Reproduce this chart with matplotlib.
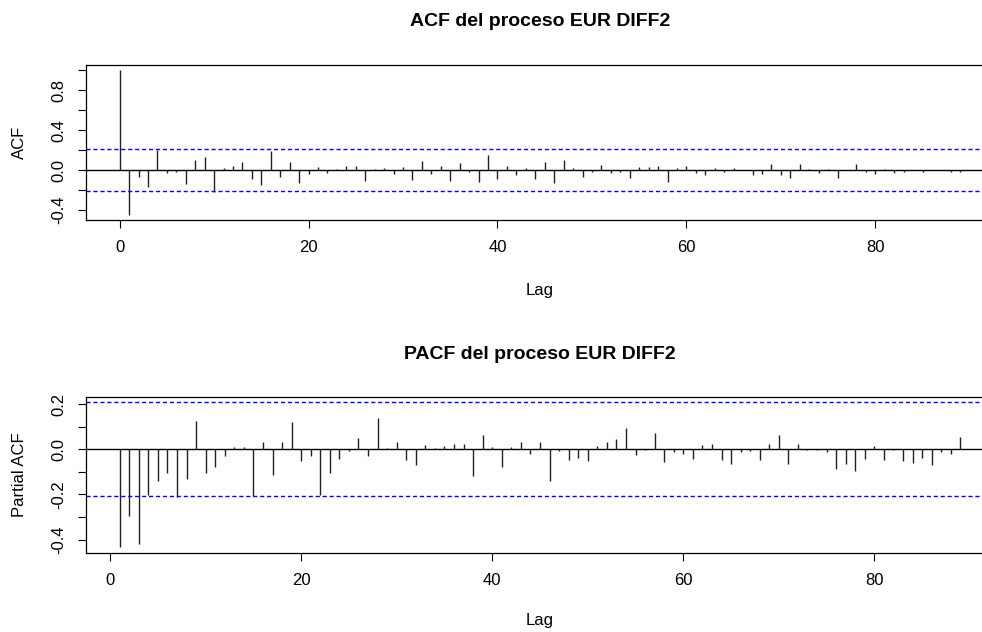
import matplotlib
matplotlib.use("Agg")
import matplotlib.pyplot as plt
import numpy as np

plt.rcParams['font.family'] = ['Liberation Sans', 'DejaVu Sans']

# sample size behind the confidence band (1.96 / sqrt(n))
n_obs = 90

acf_lags = list(range(0, 90))
acf_vals = [
    1.000, -0.447, -0.067, -0.167, 0.200, -0.030, -0.020, -0.137, 0.103, 0.133,
    -0.223, 0.023, 0.043, 0.083, -0.087, -0.147, 0.187, -0.070, 0.083, -0.127,
    -0.037, 0.033, -0.027, 0.013, 0.043, 0.043, -0.107, 0.013, 0.023, -0.037,
    0.033, -0.097, 0.093, -0.037, 0.043, -0.107, 0.073, -0.017, -0.117, 0.153,
    -0.087, 0.043, -0.047, 0.023, -0.087, 0.083, -0.127, 0.103, 0.023, -0.067,
    -0.017, 0.053, -0.027, -0.017, -0.077, 0.033, 0.033, 0.043, -0.117, 0.023,
    0.043, -0.027, -0.047, 0.023, -0.017, 0.023, 0.003, -0.047, -0.037, 0.063,
    -0.047, -0.077, 0.063, 0.013, -0.027, 0.013, -0.077, 0.003, 0.063, -0.017,
    -0.037, 0.013, -0.027, -0.017, 0.003, -0.017, 0.003, 0.003, -0.017, -0.017,
]

pacf_lags = list(range(1, 90))
pacf_vals = [
    -0.433, -0.296, -0.421, -0.201, -0.139, -0.105, -0.212, -0.132, 0.127, -0.105,
    -0.079, -0.030, 0.010, 0.010, -0.207, 0.030, -0.114, 0.034, 0.119, -0.052,
    -0.030, -0.201, -0.104, -0.043, -0.007, 0.050, -0.030, 0.139, 0.006, 0.033,
    -0.047, -0.070, 0.019, 0.006, 0.015, 0.025, 0.025, -0.119, 0.064, 0.012,
    -0.079, 0.010, 0.030, -0.021, 0.033, -0.141, -0.007, -0.047, -0.039, -0.052,
    0.015, 0.033, 0.047, 0.095, -0.025, -0.003, 0.073, -0.056, -0.012, -0.021,
    -0.043, 0.019, 0.025, -0.047, -0.065, -0.012, -0.007, -0.047, 0.025, 0.064,
    -0.065, 0.025, -0.003, -0.003, -0.012, -0.087, -0.065, -0.096, -0.043, 0.015,
    -0.047, -0.003, -0.052, -0.061, -0.039, -0.070, -0.012, -0.021, 0.056,
]

ci = 1.96 / np.sqrt(n_obs)


def r_range(lo, hi):
    d = (hi - lo) * 0.04
    return lo - d, hi + d


def corr_panel(ax, lags, vals, title, ylabel, yticks, ylabels, title_y, lab_y):
    ax.vlines(lags, 0, vals, color='#202020', lw=1.0)
    ax.axhline(0, color='black', lw=1.0)
    ax.axhline(ci, color='blue', lw=1.0, ls=(0, (3, 2)))
    ax.axhline(-ci, color='blue', lw=1.0, ls=(0, (3, 2)))
    ax.set_xlim(*r_range(min(lags), max(lags)))
    ax.set_ylim(*r_range(min(min(vals), -ci), max(max(vals), ci)))
    ax.set_xticks([0, 20, 40, 60, 80])
    ax.set_yticks(yticks)
    ax.set_yticklabels(ylabels, rotation=90, va='center')
    ax.tick_params(direction='out', length=5.5, width=0.8, labelsize=12, pad=9)
    for s in ax.spines.values():
        s.set_linewidth(0.9)
    ax.set_ylabel(ylabel, fontsize=12, labelpad=17)
    ax.text(0.5, title_y, title, transform=ax.transAxes, ha='center', va='center',
            fontsize=14, fontweight='bold')
    ax.text(0.5, lab_y, 'Lag', transform=ax.transAxes, ha='center', va='center', fontsize=12)


fig = plt.figure(figsize=(9.82, 6.32), dpi=100)
ax1 = fig.add_axes([0.0876, 0.6514, 0.9246, 0.2462])
ax2 = fig.add_axes([0.0876, 0.1250, 0.9246, 0.2473])

corr_panel(ax1, acf_lags, acf_vals, 'ACF del proceso EUR DIFF2', 'ACF',
           [-0.4, -0.2, 0.0, 0.2, 0.4, 0.6, 0.8, 1.0],
           ['-0.4', '', '0.0', '', '0.4', '', '0.8', ''],
           1.275, -0.45)
corr_panel(ax2, pacf_lags, pacf_vals, 'PACF del proceso EUR DIFF2', 'Partial ACF',
           [-0.4, -0.3, -0.2, -0.1, 0.0, 0.1, 0.2],
           ['-0.4', '', '-0.2', '', '0.0', '', '0.2'],
           1.27, -0.43)

fig.savefig('out.png', dpi=100)
